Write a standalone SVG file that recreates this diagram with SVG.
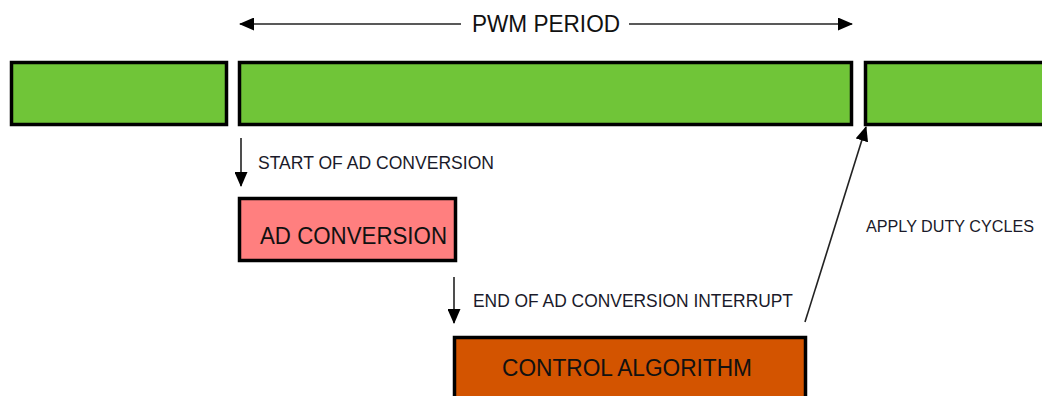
<svg xmlns="http://www.w3.org/2000/svg" width="1042" height="396" viewBox="0 0 1042 396">
<style>
.bar{fill:#70C538;stroke:#000;stroke-width:3.5}
.ad{fill:#FF7F7F;stroke:#000;stroke-width:3.5}
.ctl{fill:#D35400;stroke:#000;stroke-width:3.5}
.ln{stroke:#222;stroke-width:1.6;fill:none}
.big{font-family:"Liberation Sans",Arial,sans-serif;font-size:23px;fill:#111}
.sm{font-family:"Liberation Sans",Arial,sans-serif;font-size:18px;fill:#1a1a2a}
</style>
<defs>
<marker id="ah" markerUnits="userSpaceOnUse" markerWidth="15" markerHeight="13" refX="14" refY="6.5" orient="auto-start-reverse" viewBox="0 0 15 13">
<path d="M0,0 L15,6.5 L0,13 z" fill="#000"/>
</marker>
</defs>
<g id="bar-prev"><rect class="bar" x="11.5" y="62.5" width="215" height="62"/></g>
<g id="bar-period"><rect class="bar" x="239.5" y="62.5" width="612" height="62"/></g>
<g id="bar-next"><rect class="bar" x="865.5" y="62.5" width="190" height="62"/></g>
<g id="ad-conversion"><rect class="ad" x="239.5" y="198.5" width="216" height="62"/><text class="big" x="260" y="244" textLength="187" lengthAdjust="spacingAndGlyphs">AD CONVERSION</text></g>
<g id="control-algorithm"><rect class="ctl" x="454.5" y="337.5" width="351" height="80"/><text class="big" x="502" y="376" textLength="250" lengthAdjust="spacingAndGlyphs">CONTROL ALGORITHM</text></g>
<g id="connectors">
<line class="ln" x1="461" y1="24" x2="240" y2="24" marker-end="url(#ah)"/>
<line class="ln" x1="629" y1="24" x2="852" y2="24" marker-end="url(#ah)"/>
<line class="ln" x1="241" y1="138" x2="241" y2="186" marker-end="url(#ah)"/>
<line class="ln" x1="454" y1="277" x2="454" y2="323" marker-end="url(#ah)"/>
<line class="ln" x1="805" y1="322" x2="866" y2="127" marker-end="url(#ah)"/>
</g>
<g id="labels">
<text class="big" x="472" y="32" textLength="148" lengthAdjust="spacingAndGlyphs">PWM PERIOD</text>
<text class="sm" x="258" y="169" textLength="236" lengthAdjust="spacingAndGlyphs">START OF AD CONVERSION</text>
<text class="sm" x="473" y="307" textLength="320" lengthAdjust="spacingAndGlyphs">END OF AD CONVERSION INTERRUPT</text>
<text class="sm" x="866" y="232" font-size="16" style="font-size:16px" textLength="168" lengthAdjust="spacingAndGlyphs">APPLY DUTY CYCLES</text>
</g>
</svg>
